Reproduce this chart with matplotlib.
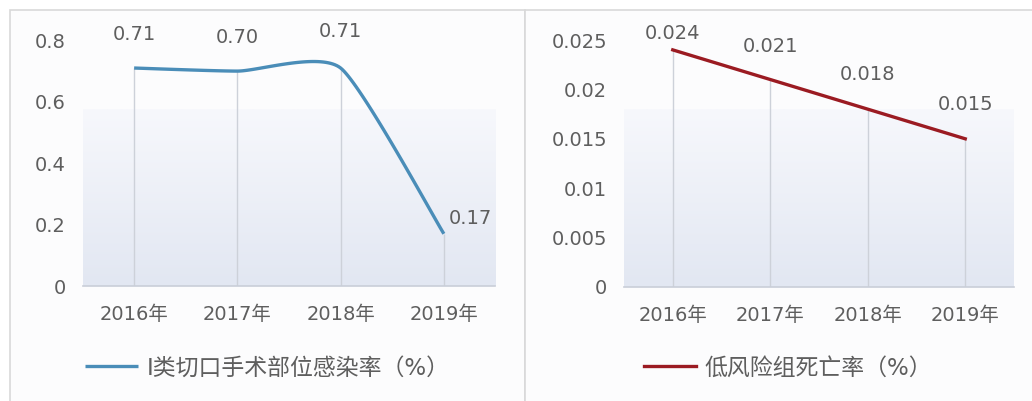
import numpy as np
import matplotlib.pyplot as plt
from matplotlib.patches import Rectangle
from matplotlib.colors import LinearSegmentedColormap

plt.rcParams['font.family'] = ['DejaVu Sans', 'Noto Sans CJK SC']

years = ['2016年', '2017年', '2018年', '2019年']
infection = [0.71, 0.70, 0.71, 0.17]
infection_labels = ['0.71', '0.70', '0.71', '0.17']
mortality = [0.024, 0.021, 0.018, 0.015]
mortality_labels = ['0.024', '0.021', '0.018', '0.015']
left_yticks = [0, 0.2, 0.4, 0.6, 0.8]
right_yticks = [0, 0.005, 0.01, 0.015, 0.02, 0.025]

TXT = '#5E5E5E'
GRID = '#CDD1D9'


def smooth(x, y, k=0.1, n=40):
    # bezier smoothing, tangents like a spreadsheet smoothed line
    x = np.asarray(x, float)
    y = np.asarray(y, float)
    px, py = [], []
    for i in range(len(x) - 1):
        x0, y0 = (x[i - 1], y[i - 1]) if i > 0 else (x[i], y[i])
        x3, y3 = (x[i + 2], y[i + 2]) if i + 2 < len(x) else (x[i + 1], y[i + 1])
        c1 = (x[i] + (x[i + 1] - x0) * k, y[i] + (y[i + 1] - y0) * k)
        c2 = (x[i + 1] - (x3 - x[i]) * k, y[i + 1] - (y3 - y[i]) * k)
        t = np.linspace(0, 1, n)
        a, b, c, d = (1 - t) ** 3, 3 * (1 - t) ** 2 * t, 3 * (1 - t) * t ** 2, t ** 3
        px.extend(a * x[i] + b * c1[0] + c * c2[0] + d * x[i + 1])
        py.extend(a * y[i] + b * c1[1] + c * c2[1] + d * y[i + 1])
    return px, py


fig = plt.figure(figsize=(10.32, 4.01), dpi=100)
W, H = 1032, 401

# panel frames
for x0, x1 in [(10, 525), (525, 1040)]:
    fig.patches.append(Rectangle((x0 / W, -0.05), (x1 - x0) / W, (H - 10) / H + 0.05,
                                 transform=fig.transFigure, facecolor='#FCFCFD',
                                 edgecolor='#D9D9D9', lw=1.2, zorder=-5))

grad = LinearSegmentedColormap.from_list('g', ['#E2E7F2', '#F7F8FC'])


def setup(ax, yticks, ymax, fmt):
    ax.set_facecolor('none')
    ax.set_xlim(-0.5, 3.5)
    ax.set_ylim(0, ymax)
    g = np.linspace(0, 1, 100).reshape(-1, 1)
    ax.imshow(g, cmap=grad, origin='lower', aspect='auto', extent=(0, 1, 0, 0.72),
              transform=ax.transAxes, zorder=0)
    for s in ['top', 'left', 'right']:
        ax.spines[s].set_visible(False)
    ax.spines['bottom'].set_color('#C9CED8')
    ax.spines['bottom'].set_linewidth(1.2)
    ax.set_xticks(range(len(years)))
    ax.set_xticklabels(years)
    ax.set_yticks(yticks)
    ax.set_yticklabels([fmt(v) for v in yticks])
    ax.tick_params(axis='x', length=0, pad=14, labelsize=14, labelcolor=TXT)
    ax.tick_params(axis='y', length=0, pad=12, labelsize=14, labelcolor=TXT)


# left chart
ax1 = fig.add_axes([82.5 / W, (H - 286) / H, 413 / W, 245.6 / H])
setup(ax1, left_yticks, 0.8, lambda v: f'{v:g}')
xs = np.arange(len(years))
ax1.vlines(xs, 0, infection, color=GRID, lw=1, zorder=1)
sx, sy = smooth(xs, infection)
ax1.plot(sx, sy, color='#4A8DB8', lw=2.4, zorder=3, solid_capstyle='butt',
         label='I类切口手术部位感染率（%）')
offs1 = [(0, 24), (0, 24), (0, 26), (19, 11)]
for x, v, lab, o in zip(xs, infection, infection_labels, offs1):
    ax1.annotate(lab, (x, v), xytext=o, textcoords='offset points', ha='center',
                 va='center', fontsize=14, color=TXT)
ax1.legend(loc='center left', bbox_to_anchor=(85 / W, (H - 368) / H),
           bbox_transform=fig.transFigure, frameon=False, fontsize=16.5,
           handlelength=2.3, handletextpad=0.4, borderpad=0, borderaxespad=0,
           labelcolor=TXT)

# right chart
ax2 = fig.add_axes([624 / W, (H - 287) / H, 390 / W, 247 / H])
setup(ax2, right_yticks, 0.025, lambda v: f'{v:g}')
ax2.vlines(xs, 0, mortality, color=GRID, lw=1, zorder=1)
ax2.plot(xs, mortality, color='#9B1B22', lw=2.4, zorder=3,
         label='低风险组死亡率（%）')
offs2 = [(0, 12), (0, 24), (0, 25), (0, 25)]
for x, v, lab, o in zip(xs, mortality, mortality_labels, offs2):
    ax2.annotate(lab, (x, v), xytext=o, textcoords='offset points', ha='center',
                 va='center', fontsize=14, color=TXT)
ax2.legend(loc='center left', bbox_to_anchor=(644 / W, (H - 368) / H),
           bbox_transform=fig.transFigure, frameon=False, fontsize=16.5,
           handlelength=2.25, handletextpad=0.4, borderpad=0, borderaxespad=0,
           labelcolor=TXT)

fig.savefig('out.png', dpi=100)
